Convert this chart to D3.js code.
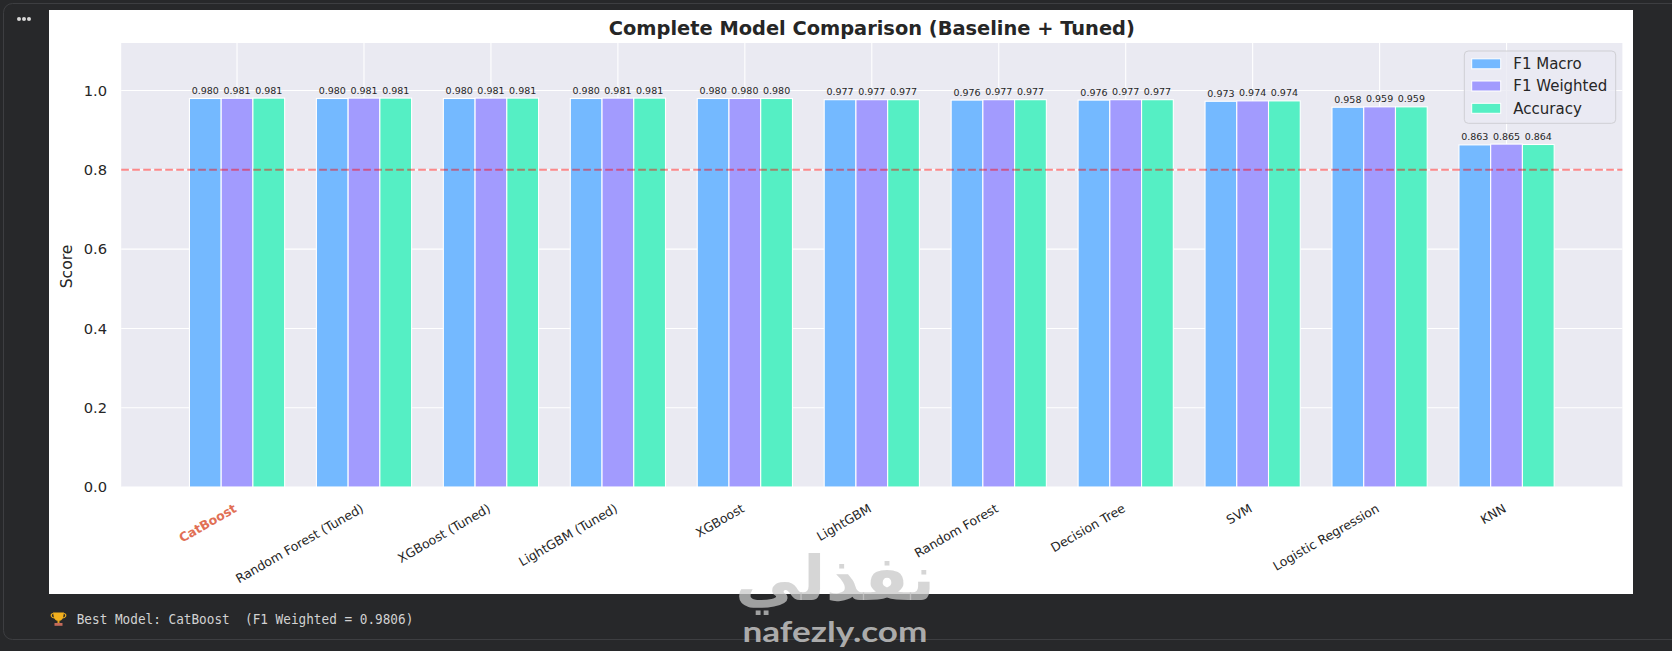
<!DOCTYPE html>
<html><head><meta charset="utf-8">
<script src="https://cdn.jsdelivr.net/npm/d3@7"></script>
<style>html,body{margin:0;padding:0;background:#27282a;overflow:hidden}</style>
</head>
<body>
<svg id="c" width="1672" height="651"></svg>
<script>
// ---- data ----
const models = ["CatBoost","Random Forest (Tuned)","XGBoost (Tuned)","LightGBM (Tuned)","XGBoost","LightGBM","Random Forest","Decision Tree","SVM","Logistic Regression","KNN"];
const f1Macro    = [0.980,0.980,0.980,0.980,0.980,0.977,0.976,0.976,0.973,0.958,0.863];
const f1Weighted = [0.9806,0.981,0.981,0.981,0.980,0.977,0.977,0.977,0.974,0.959,0.865];
const accuracy   = [0.981,0.981,0.981,0.981,0.980,0.977,0.977,0.977,0.974,0.959,0.864];
const seriesNames = ["F1 Macro","F1 Weighted","Accuracy"];
const seriesColors = ["#74b9ff","#a29bfe","#55efc4"];
const yTicks = [0,0.2,0.4,0.6,0.8,1.0];
const threshold = 0.8;
const bestModel = "CatBoost";
const titleText = "Complete Model Comparison (Baseline + Tuned)";
const footerText = "Best Model: CatBoost  (F1 Weighted = 0.9806)";

// ---- layout ----
const FONT = "DejaVu Sans";
const TXT = "#262626";
const plotL = 121.2, plotR = 1622.4, plotT = 43, plotB = 487;
const barW = 0.25;
const n = models.length;
const pad = 0.05 * ((n - 1) + 3 * barW);
const x = d3.scaleLinear().domain([-1.5 * barW - pad, (n - 1) + 1.5 * barW + pad]).range([plotL, plotR]);
const y = d3.scaleLinear().domain([0, 1.12]).range([plotB, plotT]);
const series = [f1Macro, f1Weighted, accuracy];

const svg = d3.select("#c");
svg.append("rect").attr("width",1672).attr("height",651).attr("fill","#27282a");
svg.append("rect").attr("x",3.5).attr("y",3.5).attr("width",1720).attr("height",636)
  .attr("rx",9).attr("fill","none").attr("stroke","#3d3e41").attr("stroke-width",1);
[19,24,29].forEach(cx => svg.append("circle").attr("cx",cx).attr("cy",19).attr("r",2).attr("fill","#d6d6d6"));

// panel
svg.append("rect").attr("x",49).attr("y",10).attr("width",1584).attr("height",584).attr("fill","#ffffff");
// plot bg
svg.append("rect").attr("x",plotL).attr("y",plotT).attr("width",plotR-plotL).attr("height",plotB-plotT).attr("fill","#eaeaf2");

// grid
const grid = svg.append("g");
grid.selectAll(".hg").data(yTicks).join("line")
  .attr("x1",plotL).attr("x2",plotR).attr("y1",d=>y(d)).attr("y2",d=>y(d))
  .attr("stroke","#ffffff").attr("stroke-width",1.1);
grid.selectAll(".vg").data(d3.range(n)).join("line")
  .attr("x1",d=>x(d)).attr("x2",d=>x(d)).attr("y1",plotT).attr("y2",plotB)
  .attr("stroke","#ffffff").attr("stroke-width",1.1);

// bars
const bw = x(barW) - x(0);
series.forEach((vals, s) => {
  const off = (s - 1) * barW;
  const g = svg.append("g");
  g.selectAll("rect").data(vals).join("rect")
    .attr("x",(d,i)=>x(i + off - barW/2)).attr("width",bw)
    .attr("y",d=>y(d)).attr("height",d=>y(0)-y(d))
    .attr("fill",seriesColors[s]).attr("stroke","#ffffff").attr("stroke-width",1.1);
  g.selectAll("text").data(vals).join("text")
    .attr("x",(d,i)=>x(i + off)).attr("y",d=>y(d)-4.5)
    .attr("text-anchor","middle").attr("font-family",FONT).attr("font-size",9.5)
    .attr("fill",TXT).text(d=>d3.format(".3f")(d));
});

// threshold
svg.append("line").attr("x1",plotL).attr("x2",plotR).attr("y1",y(threshold)).attr("y2",y(threshold))
  .attr("stroke","red").attr("stroke-opacity",0.45).attr("stroke-width",2).attr("stroke-dasharray","7.7,3.3");

// y axis
const ya = svg.append("g").attr("transform",`translate(${plotL},0)`)
  .call(d3.axisLeft(y).tickValues(yTicks).tickFormat(d3.format(".1f")).tickSize(0).tickPadding(14.2));
ya.select(".domain").remove();
ya.selectAll("text").attr("font-family",FONT).attr("font-size",14.7).attr("fill",TXT);

// x axis
const xa = svg.append("g").attr("transform",`translate(0,${plotB})`)
  .call(d3.axisBottom(x).tickValues(d3.range(n)).tickFormat(i=>models[i]).tickSize(0));
xa.select(".domain").remove();
xa.selectAll("text")
  .attr("x",0).attr("y",0).attr("dy",0)
  .attr("transform","translate(0,24) rotate(-30)")
  .attr("text-anchor","end").attr("font-family",FONT).attr("font-size",12.5)
  .attr("fill",(i)=>models[i]===bestModel?"#e17055":TXT)
  .attr("font-weight",(i)=>models[i]===bestModel?"bold":"normal");

// y label
svg.append("text").attr("transform","translate(72.4,266.5) rotate(-90)")
  .attr("text-anchor","middle").attr("font-family",FONT).attr("font-size",15.6).attr("fill",TXT).text("Score");

// title
svg.append("text").attr("x",(plotL+plotR)/2).attr("y",35).attr("text-anchor","middle")
  .attr("font-family",FONT).attr("font-weight","bold").attr("font-size",19.4).attr("fill",TXT).text(titleText);

// legend
const lg = svg.append("g");
lg.append("rect").attr("x",1464.3).attr("y",51).attr("width",151.4).attr("height",72.3).attr("rx",4)
  .attr("fill","#eaeaf2").attr("fill-opacity",0.8).attr("stroke","#cfcfd4").attr("stroke-width",1);
const rowY = [63.8, 86.0, 108.3];
seriesNames.forEach((nm, s) => {
  lg.append("rect").attr("x",1471.7).attr("y",rowY[s]-5).attr("width",29).attr("height",10)
    .attr("fill",seriesColors[s]).attr("stroke","#ffffff").attr("stroke-width",1);
  lg.append("text").attr("x",1513.3).attr("y",rowY[s]).attr("dy","0.36em")
    .attr("font-family",FONT).attr("font-size",15).attr("fill",TXT).text(nm);
});

// footer: trophy + text
const tr = svg.append("g");
tr.append("path").attr("d","M53,612.5 L64,612.5 L63,618 Q61.5,621 58.5,621 Q55.5,621 54,618 Z").attr("fill","#f2b01e");
tr.append("path").attr("d","M53,613.5 Q50.5,614 51.5,616.5 Q52.5,618 54.5,618").attr("fill","none").attr("stroke","#f2b01e").attr("stroke-width",1.2);
tr.append("path").attr("d","M64,613.5 Q66.5,614 65.5,616.5 Q64.5,618 62.5,618").attr("fill","none").attr("stroke","#f2b01e").attr("stroke-width",1.2);
tr.append("rect").attr("x",57.5).attr("y",621).attr("width",2).attr("height",2).attr("fill","#e0a020");
tr.append("rect").attr("x",54.5).attr("y",623).attr("width",8).attr("height",2.8).attr("fill","#c46a5a");
svg.append("text").attr("x",76.7).attr("y",624).attr("font-family","DejaVu Sans Mono")
  .attr("font-size",13.2).attr("fill","#d2d2d2").attr("xml:space","preserve").style("white-space","pre")
  .attr("textLength",336.6).attr("lengthAdjust","spacingAndGlyphs").text(footerText);

// watermark
svg.append("text").attr("x",835).attr("y",600).attr("text-anchor","middle").attr("font-family","DejaVu Sans")
  .attr("font-weight","bold").attr("font-size",62).attr("fill","#c8c8c8").attr("fill-opacity",0.75)
  .attr("textLength",200).attr("lengthAdjust","spacingAndGlyphs").text("نفذلي");
svg.append("text").attr("x",835).attr("y",641.5).attr("text-anchor","middle").attr("font-family","Lato")
  .attr("font-weight","bold").attr("font-size",28).attr("fill","#c4c4c4").attr("fill-opacity",0.85)
  .attr("textLength",185).attr("lengthAdjust","spacingAndGlyphs").text("nafezly.com");
</script>
</body></html>
